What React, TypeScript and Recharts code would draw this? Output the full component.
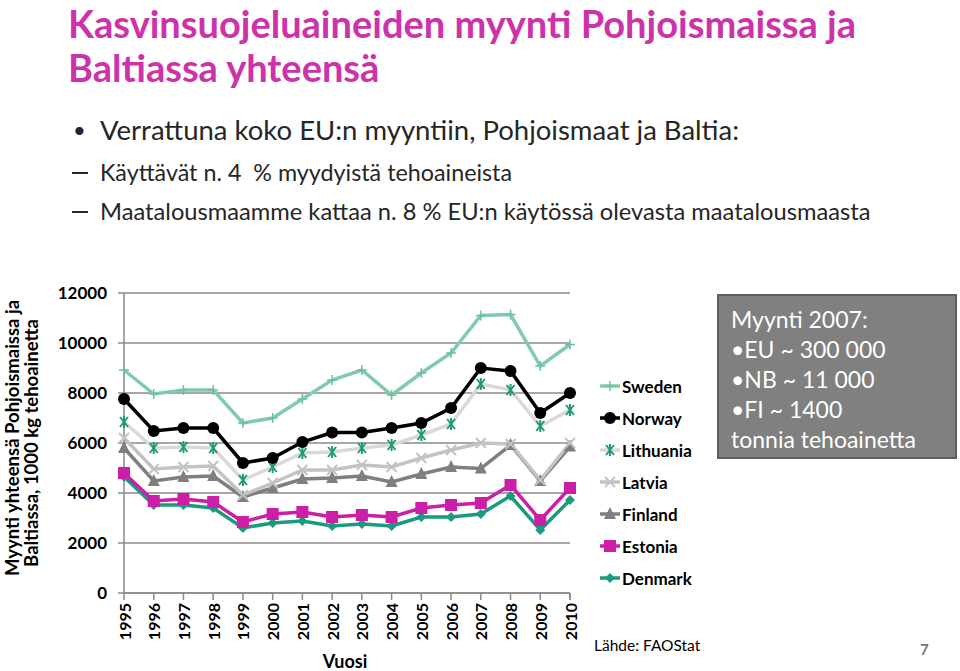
import React from "react";
import { LineChart, Line, XAxis, YAxis, CartesianGrid, Legend } from "recharts";

const YEARS = ["1995", "1996", "1997", "1998", "1999", "2000", "2001", "2002", "2003", "2004", "2005", "2006", "2007", "2008", "2009", "2010"];

const SWEDEN = [8920, 7960, 8120, 8120, 6800, 7000, 7760, 8520, 8920, 7920, 8800, 9600, 11100, 11140, 9080, 9940];
const NORWAY = [7760, 6480, 6600, 6600, 5200, 5400, 6040, 6420, 6420, 6600, 6800, 7400, 9000, 8880, 7200, 8000];
const LITHUANIA = [6840, 5800, 5840, 5800, 4520, 5040, 5600, 5640, 5800, 5920, 6320, 6760, 8360, 8120, 6680, 7320];
const LATVIA = [6200, 4960, 5040, 5080, 3920, 4400, 4920, 4920, 5120, 5040, 5400, 5720, 6000, 5960, 4520, 6000];
const FINLAND = [5800, 4480, 4640, 4680, 3840, 4200, 4560, 4600, 4680, 4440, 4760, 5040, 4980, 5920, 4480, 5860];
const ESTONIA = [4800, 3680, 3760, 3640, 2840, 3160, 3240, 3040, 3120, 3040, 3400, 3520, 3600, 4320, 2920, 4200];
const DENMARK = [4650, 3520, 3520, 3400, 2600, 2800, 2880, 2680, 2760, 2680, 3040, 3040, 3160, 3880, 2520, 3720];

const Y_TICKS = [0, 2000, 4000, 6000, 8000, 10000, 12000];

const data = YEARS.map((year, i) => ({
  year,
  Sweden: SWEDEN[i],
  Norway: NORWAY[i],
  Lithuania: LITHUANIA[i],
  Latvia: LATVIA[i],
  Finland: FINLAND[i],
  Estonia: ESTONIA[i],
  Denmark: DENMARK[i],
}));

const MAGENTA = "#CC1FA8";
const TEAL = "#1A9A7E";
const AXIS_GRAY = "#8A8A8A";
const CHART_FONT = "Lato, 'DejaVu Sans', sans-serif";

// marker shapes, roughly like the Excel ones
function Marker({ kind, cx, cy, color }) {
  if (cx == null || cy == null) return null;
  switch (kind) {
    case "plus":
      return (
        <g stroke={color} strokeWidth={1.5}>
          <line x1={cx - 5} y1={cy} x2={cx + 5} y2={cy} />
          <line x1={cx} y1={cy - 5} x2={cx} y2={cy + 5} />
        </g>
      );
    case "circle":
      return <circle cx={cx} cy={cy} r={6} fill={color} />;
    case "star":
      return (
        <g stroke={color} strokeWidth={2}>
          <line x1={cx - 4} y1={cy - 5} x2={cx + 4} y2={cy + 5} />
          <line x1={cx - 4} y1={cy + 5} x2={cx + 4} y2={cy - 5} />
          <line x1={cx} y1={cy - 6} x2={cx} y2={cy + 6} />
        </g>
      );
    case "x":
      return (
        <g stroke={color} strokeWidth={2}>
          <line x1={cx - 5} y1={cy - 5} x2={cx + 5} y2={cy + 5} />
          <line x1={cx - 5} y1={cy + 5} x2={cx + 5} y2={cy - 5} />
        </g>
      );
    case "triangle":
      return <polygon points={`${cx},${cy - 7} ${cx + 6},${cy + 5} ${cx - 6},${cy + 5}`} fill={color} />;
    case "square":
      return <rect x={cx - 6} y={cy - 6} width={12} height={12} fill={color} />;
    case "diamond":
      return <polygon points={`${cx},${cy - 5} ${cx + 5},${cy} ${cx},${cy + 5} ${cx - 5},${cy}`} fill={color} />;
    default:
      return null;
  }
}

const SERIES = [
  { key: "Sweden", line: "#80CBAB", marker: "plus", markerColor: "#6FC09C" },
  { key: "Norway", line: "#000000", marker: "circle", markerColor: "#000000" },
  { key: "Lithuania", line: "#D9D9D9", marker: "star", markerColor: "#1E9A78" },
  { key: "Latvia", line: "#C3C3C3", marker: "x", markerColor: "#C3C3C3" },
  { key: "Finland", line: "#7F7F7F", marker: "triangle", markerColor: "#7F7F7F" },
  { key: "Estonia", line: MAGENTA, marker: "square", markerColor: MAGENTA },
  { key: "Denmark", line: TEAL, marker: "diamond", markerColor: TEAL },
];

function XTick(props) {
  const { x, y, payload } = props;
  const off = payload.offset ?? 14;
  const isLast = payload.value === YEARS[YEARS.length - 1];
  return (
    <g>
      <line x1={x - off} x2={x - off} y1={y} y2={y + 7} stroke={AXIS_GRAY} strokeWidth={1.5} />
      {isLast && <line x1={x + off} x2={x + off} y1={y} y2={y + 7} stroke={AXIS_GRAY} strokeWidth={1.5} />}
      <text
        x={x}
        y={y + 10}
        transform={`rotate(-90 ${x} ${y + 10})`}
        textAnchor="end"
        dominantBaseline="central"
        fontFamily={CHART_FONT}
        fontWeight={700}
        fontSize={16}
        fill="#000"
      >
        {payload.value}
      </text>
    </g>
  );
}

function LegendBox() {
  return (
    <div style={{ fontFamily: CHART_FONT, fontWeight: 700, fontSize: 17 }}>
      {SERIES.map((s) => (
        <div key={s.key} style={{ display: "flex", alignItems: "center", height: 32 }}>
          <svg width={24} height={16}>
            <line x1={2} y1={8} x2={22} y2={8} stroke={s.line} strokeWidth={3.5} />
            <Marker kind={s.marker} cx={12} cy={8} color={s.markerColor} />
          </svg>
          <span>{s.key}</span>
        </div>
      ))}
    </div>
  );
}

const slideFont = "Lato, 'Open Sans', sans-serif";

function Dash({ top }) {
  return <div style={{ position: "absolute", left: 72, top, width: 16, height: 1.5, background: "#262626" }} />;
}

const titleStyle = {
  position: "absolute",
  left: 68,
  color: "#CC33AA",
  fontFamily: slideFont,
  fontWeight: 700,
  fontSize: 38,
  lineHeight: "38px",
  whiteSpace: "nowrap",
};

export default function App() {
  return (
    <div style={{ position: "absolute", left: 0, top: 0, width: 960, height: 671, background: "#fff", overflow: "hidden" }}>
      <div style={{ ...titleStyle, top: 4 }}>Kasvinsuojeluaineiden myynti Pohjoismaissa ja</div>
      <div style={{ ...titleStyle, top: 48 }}>Baltiassa yhteensä</div>

      <div style={{ position: "absolute", left: 72, top: 113, fontFamily: slideFont, fontSize: 27.5, color: "#262626", lineHeight: "34px" }}>
        <span style={{ position: "absolute", left: 1, fontSize: 22 }}>•</span>
        <span style={{ position: "absolute", left: 28, whiteSpace: "nowrap" }}>Verrattuna koko EU:n myyntiin, Pohjoismaat ja Baltia:</span>
      </div>
      <Dash top={172} />
      <div style={{ position: "absolute", left: 100, top: 157, fontFamily: slideFont, fontSize: 23.3, color: "#262626", lineHeight: "30px", whiteSpace: "nowrap" }}>
        Käyttävät n. 4 &nbsp;% myydyistä tehoaineista
      </div>
      <Dash top={211} />
      <div style={{ position: "absolute", left: 100, top: 196, fontFamily: slideFont, fontSize: 23.7, color: "#262626", lineHeight: "30px", whiteSpace: "nowrap" }}>
        Maatalousmaamme kattaa n. 8 % EU:n käytössä olevasta maatalousmaasta
      </div>

      <div style={{ position: "absolute", left: 0, top: 0 }}>
        <LineChart width={960} height={671} data={data} margin={{ top: 293, right: 390, bottom: 18, left: 64 }}>
          <CartesianGrid vertical={false} stroke={AXIS_GRAY} strokeWidth={1.5} />
          <XAxis
            dataKey="year"
            height={60}
            stroke={AXIS_GRAY}
            strokeWidth={1.5}
            tickLine={false}
            tickSize={0}
            tickMargin={0}
            interval={0}
            tick={<XTick />}
          />
          <YAxis
            width={60}
            domain={[0, 12000]}
            ticks={Y_TICKS}
            stroke={AXIS_GRAY}
            strokeWidth={1.5}
            tickSize={6}
            tickMargin={11}
            tick={{ fill: "#000", fontFamily: CHART_FONT, fontWeight: 700, fontSize: 17 }}
          />
          <Legend
            layout="vertical"
            align="center"
            verticalAlign="middle"
            wrapperStyle={{ left: 598, top: 370, width: 130 }}
            content={() => <LegendBox />}
          />
          {[...SERIES].reverse().map((s) => (
            <Line
              key={s.key}
              type="linear"
              dataKey={s.key}
              stroke={s.line}
              strokeWidth={3.5}
              isAnimationActive={false}
              dot={(p) => <Marker key={`${s.key}-${p.index}`} kind={s.marker} cx={p.cx} cy={p.cy} color={s.markerColor} />}
              activeDot={false}
            />
          ))}
        </LineChart>
      </div>

      <svg style={{ position: "absolute", left: 0, top: 0 }} width={60} height={671}>
        <text x={12} y={438} transform="rotate(-90 12 438)" textAnchor="middle" dominantBaseline="central" fontFamily={CHART_FONT} fontWeight={700} fontSize={18.5}>
          Myynti yhteensä Pohjoismaissa ja
        </text>
        <text x={31} y={443} transform="rotate(-90 31 443)" textAnchor="middle" dominantBaseline="central" fontFamily={CHART_FONT} fontWeight={700} fontSize={18.5}>
          Baltiassa, 1000 kg tehoainetta
        </text>
      </svg>
      <div style={{ position: "absolute", left: 345, top: 651, transform: "translateX(-50%)", fontFamily: CHART_FONT, fontWeight: 700, fontSize: 18, lineHeight: "20px" }}>
        Vuosi
      </div>

      <div
        style={{
          position: "absolute",
          left: 717,
          top: 294,
          width: 240,
          height: 165,
          background: "#808080",
          border: "2px solid #5E5E5E",
          color: "#fff",
          fontFamily: slideFont,
          fontSize: 23,
          lineHeight: "30px",
          padding: "8px 0 0 12px",
          boxSizing: "border-box",
          whiteSpace: "nowrap",
        }}
      >
        <div>Myynti 2007:</div>
        <div>•EU ~ 300 000</div>
        <div>•NB ~ 11 000</div>
        <div>•FI ~ 1400</div>
        <div>tonnia tehoainetta</div>
      </div>

      <div style={{ position: "absolute", left: 594, top: 636, fontFamily: slideFont, fontSize: 15.5, color: "#000" }}>Lähde: FAOStat</div>
      <div style={{ position: "absolute", left: 920, top: 640, fontFamily: slideFont, fontSize: 15, color: "#777", fontWeight: 700 }}>7</div>
    </div>
  );
}
